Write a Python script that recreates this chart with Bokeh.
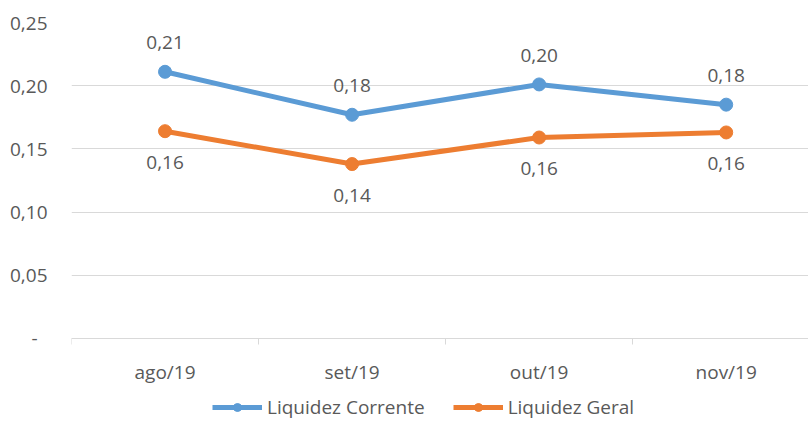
from bokeh.plotting import figure
from bokeh.models import Range1d, FixedTicker, Legend, LegendItem, ColumnDataSource
from bokeh.core.properties import value
from bokeh.embed import file_html
from bokeh.resources import INLINE

categories = ["ago/19", "set/19", "out/19", "nov/19"]
corrente = [0.211, 0.177, 0.201, 0.185]
geral = [0.164, 0.138, 0.159, 0.163]
y_ticks = [0.0, 0.05, 0.10, 0.15, 0.20, 0.25]

FONT = "Open Sans"
TXT = "#595959"
GRID = "#d9d9d9"
BLUE = "#5b9bd5"
ORANGE = "#ed7d31"

xs = list(range(len(categories)))

def fmt(v):
    return f"{v:.2f}".replace(".", ",")

# frame runs from the 0,25 gridline down to the bottom of the picture;
# the x axis is pinned at y = 0, leaving room for the legend below it
p = figure(width=808, height=420, output_backend="svg", toolbar_location=None,
           x_range=Range1d(-0.5, len(categories) - 0.56), y_range=Range1d(-0.0649, 0.25),
           min_border_left=71, min_border_right=0, min_border_top=22, min_border_bottom=0)
p.outline_line_color = None
p.background_fill_color = "white"
p.border_fill_color = "white"

p.xgrid.grid_line_color = None
p.ygrid.grid_line_color = GRID
p.ygrid.grid_line_width = 1

# y axis
p.yaxis.ticker = FixedTicker(ticks=y_ticks)
overrides = {t: fmt(t) for t in y_ticks}
overrides[0.0] = "-\u00a0\u00a0"
p.yaxis.major_label_overrides = overrides
p.yaxis.axis_line_color = None
p.yaxis.major_tick_line_color = None
p.yaxis.minor_tick_line_color = None
p.yaxis.major_tick_out = 0
p.yaxis.major_tick_in = 0
p.yaxis.major_label_standoff = 24
p.yaxis.major_label_text_font = FONT
p.yaxis.major_label_text_font_size = "19px"
p.yaxis.major_label_text_color = TXT

# x axis
p.xaxis.fixed_location = 0
p.xaxis.ticker = FixedTicker(ticks=xs, minor_ticks=[i - 0.5 for i in range(len(categories) + 1)])
p.xaxis.major_label_overrides = {i: c for i, c in zip(xs, categories)}
p.xaxis.axis_line_color = GRID
p.xaxis.major_tick_line_color = None
p.xaxis.major_tick_out = 0
p.xaxis.major_tick_in = 0
p.xaxis.minor_tick_line_color = GRID
p.xaxis.minor_tick_out = 6
p.xaxis.minor_tick_in = 0
p.xaxis.major_label_standoff = 15
p.xaxis.major_label_text_font = FONT
p.xaxis.major_label_text_font_size = "19px"
p.xaxis.major_label_text_color = TXT

src_c = ColumnDataSource(dict(x=xs, y=corrente, t=[fmt(v) for v in corrente]))
src_g = ColumnDataSource(dict(x=xs, y=geral, t=[fmt(v) for v in geral]))

lc = p.line("x", "y", source=src_c, line_color=BLUE, line_width=5)
cc = p.scatter("x", "y", source=src_c, size=13, fill_color=BLUE, line_color=BLUE)
lg = p.line("x", "y", source=src_g, line_color=ORANGE, line_width=5)
cg = p.scatter("x", "y", source=src_g, size=13, fill_color=ORANGE, line_color=ORANGE)

p.text("x", "y", text="t", source=src_c, y_offset=-29, text_align="center",
       text_baseline="middle", text_font=value(FONT), text_font_size="19px", text_color=TXT)
p.text("x", "y", text="t", source=src_g, y_offset=31, text_align="center",
       text_baseline="middle", text_font=value(FONT), text_font_size="19px", text_color=TXT)

legend = Legend(items=[LegendItem(label="Liquidez Corrente", renderers=[lc, cc]),
                       LegendItem(label="Liquidez Geral", renderers=[lg, cg])],
                orientation="horizontal", location=(141, 0),
                border_line_color=None, background_fill_alpha=0,
                label_text_font=FONT, label_text_font_size="19px", label_text_color=TXT,
                glyph_width=50, glyph_height=20, spacing=28, label_standoff=5,
                padding=0, margin=0)
p.add_layout(legend, "center")

open("out.html", "w").write(file_html(p, INLINE))
